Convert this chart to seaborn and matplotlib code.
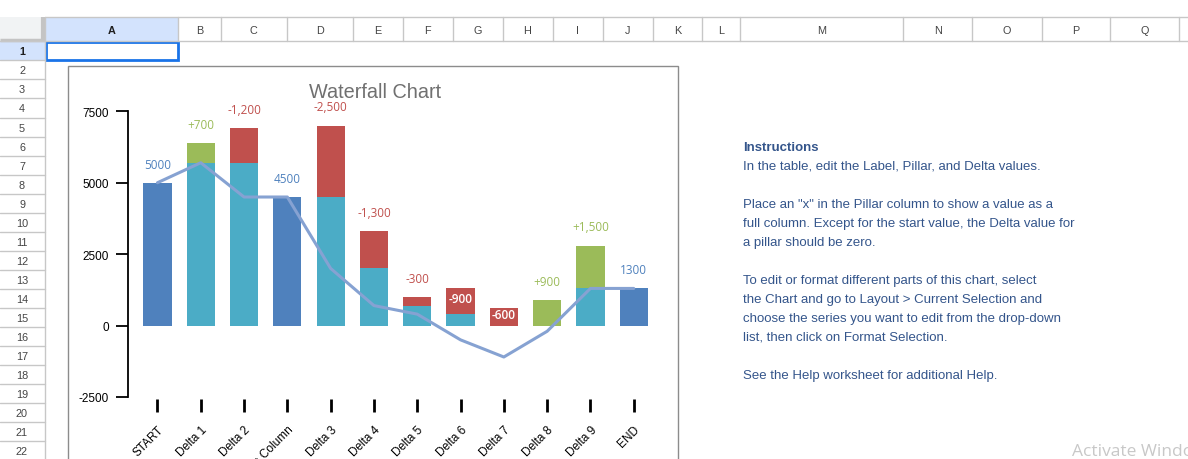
import matplotlib
matplotlib.use("Agg")
import matplotlib.pyplot as plt
import matplotlib.patches as patches
import numpy as np
import pandas as pd
import seaborn as sns

# waterfall data
labels = ["START", "Delta 1", "Delta 2", "Middle Column", "Delta 3", "Delta 4",
          "Delta 5", "Delta 6", "Delta 7", "Delta 8", "Delta 9", "END"]
pillar = [True, False, False, True, False, False, False, False, False, False, False, True]
delta = [5000, 700, -1200, 0, -2500, -1300, -300, -900, -600, 900, 1500, 0]

y_ticks = [-2500, 0, 2500, 5000, 7500]

col_letters = ["A", "B", "C", "D", "E", "F", "G", "H", "I", "J", "K", "L",
               "M", "N", "O", "P", "Q"]
row_numbers = list(range(1, 23))

instructions = [
    "Instructions",
    "In the table, edit the Label, Pillar, and Delta values.",
    "",
    "Place an \"x\" in the Pillar column to show a value as a",
    "full column. Except for the start value, the Delta value for",
    "a pillar should be zero.",
    "",
    "To edit or format different parts of this chart, select",
    "the Chart and go to Layout > Current Selection and",
    "choose the series you want to edit from the drop-down",
    "list, then click on Format Selection.",
    "",
    "See the Help worksheet for additional Help.",
]

BLUE = "#4f81bd"
CYAN = "#4bacc6"
RED = "#c0504d"
GREEN = "#9bbb59"
LINE = "#86a2d2"

cum = np.cumsum(delta)
prev = np.concatenate([[0], cum[:-1]])
base = np.where(pillar, cum, np.maximum(np.maximum(prev, cum), 0))
top = np.where(pillar, cum, base + np.abs(delta))

df = pd.DataFrame({"label": labels, "base": base, "top": top, "cum": cum})
top_colors = {l: (BLUE if p else (GREEN if d > 0 else RED)) for l, p, d in zip(labels, pillar, delta)}
base_colors = {l: (BLUE if p else CYAN) for l, p in zip(labels, pillar)}

sns.set_style("white")
plt.rcParams["font.family"] = ["Liberation Sans", "DejaVu Sans"]

W, H = 1188, 460
fig = plt.figure(figsize=(W / 100, H / 100), dpi=100)

# ---- spreadsheet background ----
bg = fig.add_axes([0, 0, 1, 1])
bg.set_xlim(0, W)
bg.set_ylim(H, 0)
bg.axis("off")

col_edges = [44.8, 178, 220.8, 286.6, 352.5, 402.6, 452.7, 502.5, 552.6, 603,
             652.5, 702.4, 739.5, 903.4, 972.3, 1041.7, 1110.4, 1179.4]
hdr_top, hdr_bot = 18.3, 42.3
row_h = 19.05
grid_c = "#c7c7c7"

bg.add_patch(patches.Rectangle((0, hdr_top), 44.8, hdr_bot - hdr_top, facecolor="#f1f3f4", edgecolor="none"))
bg.plot([43.3, 43.3], [hdr_top, hdr_bot], color="#c4c4c4", lw=3, solid_capstyle="butt")
bg.plot([0, 44.8], [hdr_bot - 1.2, hdr_bot - 1.2], color="#c4c4c4", lw=2.5, solid_capstyle="butt")
bg.add_patch(patches.Rectangle((col_edges[0], hdr_top), col_edges[1] - col_edges[0], hdr_bot - hdr_top,
                               facecolor="#d3e3fd", edgecolor="none"))
bg.plot([44.8, W], [hdr_top, hdr_top], color=grid_c, lw=1)
bg.plot([0, W], [hdr_bot, hdr_bot], color=grid_c, lw=1)
for x in col_edges:
    bg.plot([x, x], [hdr_top, hdr_bot], color=grid_c, lw=1)
for i, letter in enumerate(col_letters):
    cx = (col_edges[i] + col_edges[i + 1]) / 2
    bg.text(cx, (hdr_top + hdr_bot) / 2 + 0.5, letter, ha="center", va="center", fontsize=7.8,
            color="#1f1f1f" if i == 0 else "#444444", fontweight="bold" if i == 0 else "normal")

bg.add_patch(patches.Rectangle((0, hdr_bot), 44.8, row_h, facecolor="#d3e3fd", edgecolor="none"))
bg.plot([44.8, 44.8], [hdr_bot, H], color=grid_c, lw=1)
for k, r in enumerate(row_numbers):
    y0 = hdr_bot + k * row_h
    bg.plot([0, 44.8], [y0 + row_h, y0 + row_h], color=grid_c, lw=1)
    bg.text(22, y0 + row_h / 2 + 0.5, str(r), ha="center", va="center", fontsize=7.8,
            color="#1f1f1f" if r == 1 else "#444444", fontweight="bold" if r == 1 else "normal")

bg.add_patch(patches.Rectangle((45.5, hdr_bot + 0.6), 132, row_h - 1.2, facecolor="none",
                               edgecolor="#1a73e8", lw=2))

# chart frame
bg.add_patch(patches.Rectangle((68.3, 66.7), 609.3, 420, facecolor="white", edgecolor="#8c8c8c", lw=1))
bg.text(375, 92, "Waterfall Chart", ha="center", va="center", fontsize=14.3, color="#707070")

for k, line in enumerate(instructions):
    if line:
        bg.text(743, 148 + 19 * k, line, ha="left", va="center", fontsize=9.5, color="#34558b",
                fontweight="bold" if k == 0 else "normal")

bg.text(1072, 452, "Activate Windows", ha="left", va="center", fontsize=12.5, color="#c8c8c8",
        family=["Open Sans", "DejaVu Sans"])

# ---- chart ----
x_lo, x_hi = -0.68, 11.68
px_per_cat = 43.3
ax = fig.add_axes([128 / W, (H - 398) / H, (x_hi - x_lo) * px_per_cat / W, (398 - 112.3) / H])
ax.set_facecolor("none")

sns.barplot(data=df, x="label", y="top", hue="label", palette=top_colors, order=labels,
            width=0.65, legend=False, ax=ax, saturation=1, edgecolor="none")
sns.barplot(data=df, x="label", y="base", hue="label", palette=base_colors, order=labels,
            width=0.65, legend=False, ax=ax, saturation=1, edgecolor="none")
sns.lineplot(x=np.arange(len(labels)), y=cum, color=LINE, lw=2.2, ax=ax, zorder=5)

for i, (p, d, b, t, c) in enumerate(zip(pillar, delta, base, top, cum)):
    if p:
        txt, col = str(c), BLUE
    else:
        txt, col = f"{d:+,}", (GREEN if d > 0 else RED)
    if not p and d < 0 and c < 0:
        ax.annotate(txt, xy=(i, b + abs(d) / 2), xytext=(0, 2), textcoords="offset points",
                    ha="center", va="center", fontsize=8.5, color="white", fontweight="semibold",
                    family=["Open Sans", "DejaVu Sans"], zorder=6, annotation_clip=False)
    else:
        ax.annotate(txt, xy=(i, t), xytext=(0, 13.4), textcoords="offset points",
                    ha="center", va="center", fontsize=8.5, color=col,
                    family=["Open Sans", "DejaVu Sans"], zorder=6, annotation_clip=False)

ax.set_xlim(x_lo, x_hi)
ax.set_ylim(-2500, 7500)
ax.set_yticks(y_ticks)
ax.set_yticklabels([str(v) for v in y_ticks])
ax.set_xlabel("")
ax.set_ylabel("")
for s in ["top", "right", "bottom"]:
    ax.spines[s].set_visible(False)
ax.spines["bottom"].set_position(("outward", 1.6))
ax.spines["left"].set_color("black")
ax.spines["left"].set_linewidth(1.3)
ax.tick_params(axis="y", direction="out", length=8.6, width=1.3, pad=5, labelsize=8.5,
               colors="black", left=True)
ax.tick_params(axis="x", direction="out", length=9.4, width=2, pad=8, labelsize=8.5,
               colors="black", bottom=True)
ax.set_xticks(range(len(labels)))
ax.set_xticklabels(labels, rotation=45, ha="right", va="top", rotation_mode="anchor")
for lab in ax.get_xticklabels():
    lab.set_clip_on(False)

fig.savefig("out.png", dpi=100)
